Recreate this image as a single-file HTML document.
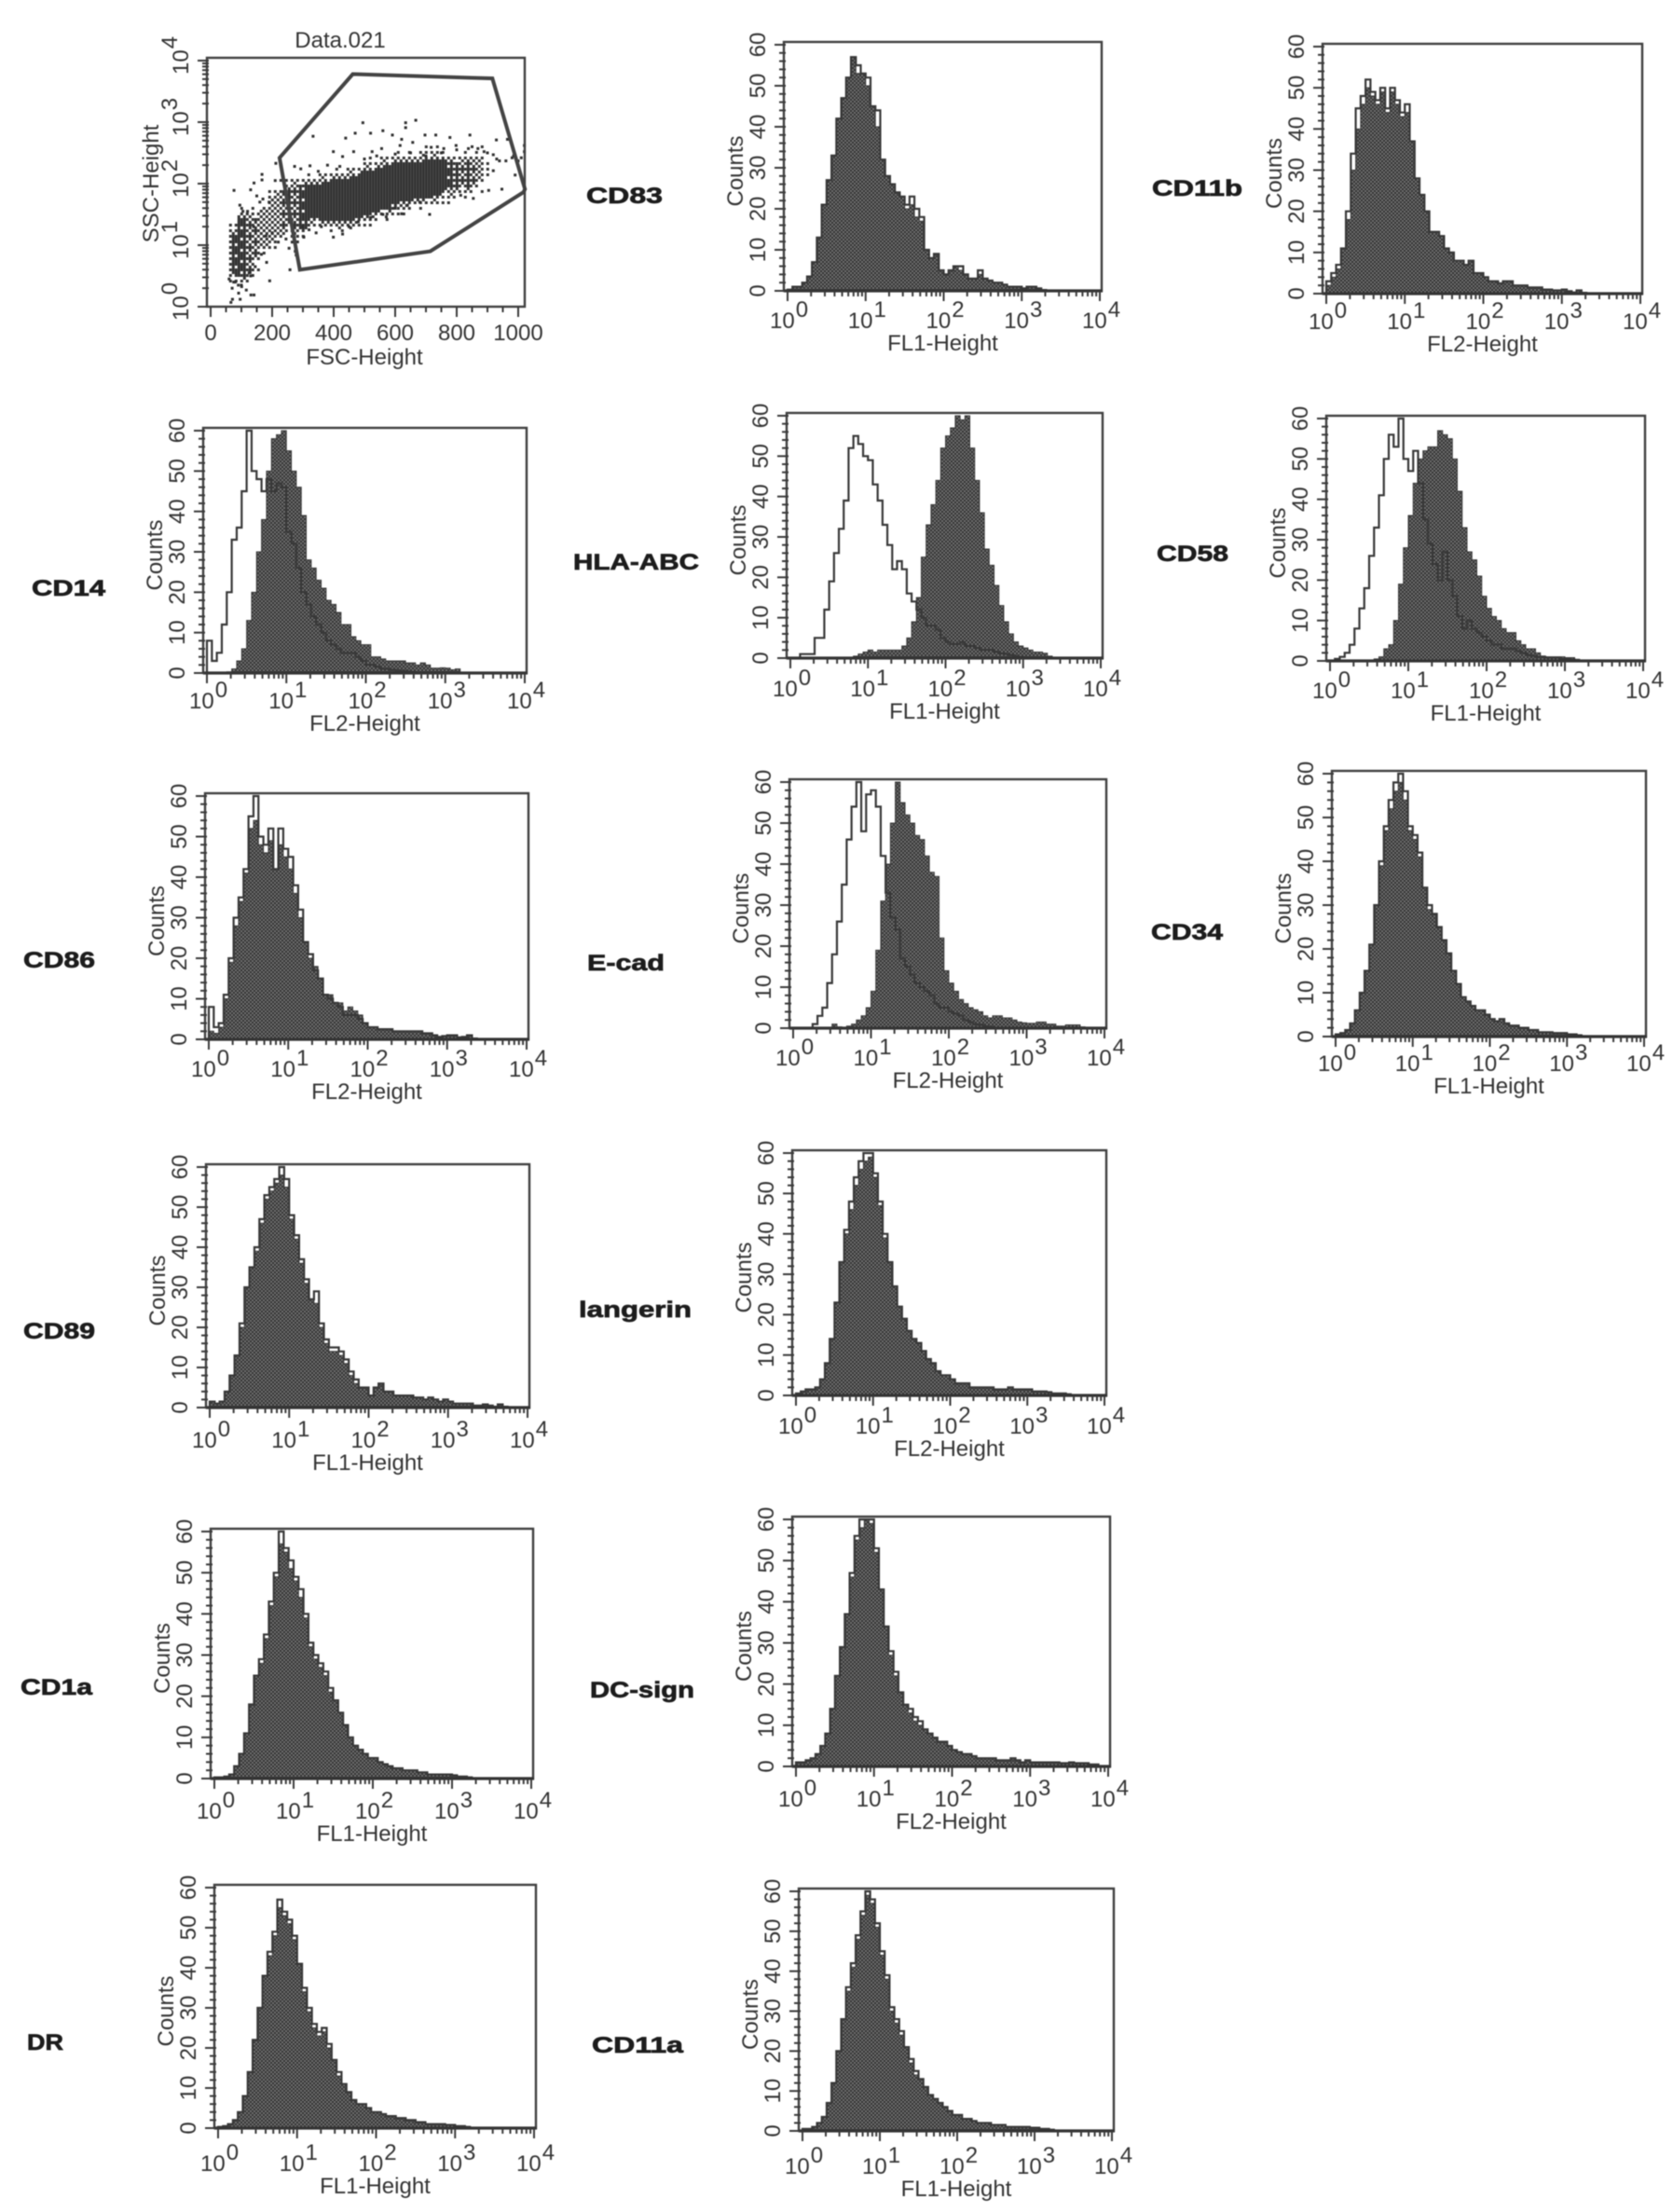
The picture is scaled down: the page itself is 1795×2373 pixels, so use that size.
<!DOCTYPE html>
<html lang="en">
<head>
<meta charset="utf-8">
<title>Flow cytometry histograms</title>
<style>
html,body{margin:0;padding:0;background:#fff;}
#figure{display:block;width:1795px;height:2373px;filter:blur(0.5px);}
text{font-family:"Liberation Sans",sans-serif;fill:#333;font-size:24px;}
.marker-label{font-weight:bold;font-size:24px;fill:#1c1c1c;stroke:#1c1c1c;stroke-width:.7px;}
</style>
</head>
<body>
<svg id="figure" xmlns="http://www.w3.org/2000/svg" width="1795" height="2373" viewBox="0 0 1795 2373">
<defs>
<pattern id="halftone" width="4" height="4" patternUnits="userSpaceOnUse">
<rect width="4" height="4" fill="#3a3a3a"/>
<rect x="0.3" y="0.3" width="1.4" height="1.4" fill="#989898"/>
<rect x="2.3" y="2.3" width="1.4" height="1.4" fill="#989898"/>
</pattern>
</defs>
<g id="marker-labels">
<text class="marker-label" x="629" y="218" textLength="82" lengthAdjust="spacingAndGlyphs">CD83</text>
<text class="marker-label" x="1236" y="210" textLength="97" lengthAdjust="spacingAndGlyphs">CD11b</text>
<text class="marker-label" x="34" y="639" textLength="79" lengthAdjust="spacingAndGlyphs">CD14</text>
<text class="marker-label" x="615" y="611" textLength="135" lengthAdjust="spacingAndGlyphs">HLA-ABC</text>
<text class="marker-label" x="1241" y="602" textLength="77" lengthAdjust="spacingAndGlyphs">CD58</text>
<text class="marker-label" x="25" y="1038" textLength="77" lengthAdjust="spacingAndGlyphs">CD86</text>
<text class="marker-label" x="630" y="1041" textLength="83" lengthAdjust="spacingAndGlyphs">E-cad</text>
<text class="marker-label" x="1235" y="1008" textLength="77" lengthAdjust="spacingAndGlyphs">CD34</text>
<text class="marker-label" x="25" y="1436" textLength="77" lengthAdjust="spacingAndGlyphs">CD89</text>
<text class="marker-label" x="621" y="1413" textLength="121" lengthAdjust="spacingAndGlyphs">langerin</text>
<text class="marker-label" x="22" y="1818" textLength="77" lengthAdjust="spacingAndGlyphs">CD1a</text>
<text class="marker-label" x="633" y="1821" textLength="112" lengthAdjust="spacingAndGlyphs">DC-sign</text>
<text class="marker-label" x="29" y="2199" textLength="39" lengthAdjust="spacingAndGlyphs">DR</text>
<text class="marker-label" x="635" y="2202" textLength="98" lengthAdjust="spacingAndGlyphs">CD11a</text>
</g>
<g id="panels"></g>
</svg>
<script>
/* Shared axis labels */
const yTickLabels = [0, 10, 20, 30, 40, 50, 60];
const xDecadeExponents = [0, 1, 2, 3, 4];
const binsPerDecade = 16;

/* Histogram counts: one value per log bin */
const cd83Filled = [.3,1,1,2,3.5,7,13,21,27,33,42,47,52,57,53,53,50,45,40,32,28,26,24,23,20,21,18,17,10,8,9,5,4,5,6,5,4,3,3,4,3,2.5,2,2,1.5,1,1,1,.6,1,1,.6,.2];
const cd83Outline = [.3,1,1,2,3.5,7,13,21,27,33,42,47,52,57,55,53,52,45,44,32,28,26,24,23,21,23,20,18,10,8,9,5,4,5,6,6,4,3,3,5,3,2.5,2,2,1.5,1,1,1,.6,1,1,.6,.2];
const cd11bFilled = [2,4,6,11,18,30,40,46,50,48,46,49,44,49,46,43,44,37,28,24,20,15,15,14,11,10,8,8,7,8,5,5,4,3,3,2.5,3,3,2,2,2,1.5,1.5,1.5,1,1,.8,.8,1,.6,.3,.8,.2];
const cd11bOutline = [3,5,7,11,20,34,45,48,52,49,47,50,45,50,47,44,46,37,28,24,20,15,15,14,11,10,8,8,7,8,5,5,4,3,3,2.5,3,3,2,2,2,1.5,1.5,1.5,1,1,.8,.8,1,.6,.3,.8,.2];
const cd14Filled = [0,0,0,0,.3,1,3,6,13,20,30,38,50,58,59,60,55,50,46,39,28,26,23,21,18,17,15,12,12,9,8,7,7,4,4,3.5,3,3,3,3,2.5,2.5,2,2.5,2,1.2,1.2,1.3,1.2,.8,1,.2];
const cd14Outline = [8,3,5,12,20,33,36,45,60,50,48,45,48,45,47,46,35,32,26,20,17,14,12,10,8,7,6,5,5,5,4,3,2,2,1.5,1,1,.8,.6,.5,.4,.3];
const hlaFilled = [0,0,0,0,0,0,0,0,0,0,0,0,0,.5,1,1.5,2,1.5,2,2,2,2,2,3,5,9,15,25,33,38,44,52,55,57,60,59,60,52,44,36,27,23,18,13,9,6,4,3,2.5,2,1.5,1.5,1.2,.5,.2];
const hlaOutline = [0,0,1,1,1,5,5,12,19,26,32,39,52,55,53,50,49,43,39,33,28,22,24,22,16,14,12,10,8,8,7,5,4,3.5,3.5,4,3,3,2.5,2,2,2,1.5,1.2,1,.8,.5,.3];
const cd58Filled = [0,0,0,0,0,0,0,0,0,.5,1,3,4,10,19,28,36,44,50,52,53,53,57,56,55,50,42,33,27,25,21,16,13,11,10,8,7,7,5,4,3,3,2,1.2,1,1,1,1,.8,.8,.4,.2];
const cd58Outline = [0,.5,1,2,4,8,13,18,26,33,41,50,56,53,60,50,47,52,44,35,29,24,20,27,20,16,11,8,10,8,7,6,5,4,4,3,3,3,2.5,2,1.5,1.2,1,1,.8,.8,.8,.5,.5,.3];
const cd86Filled = [2,1.5,3,10,19,28,34,41,52,54,48,46,49,42,48,45,42,36,30,24,20,18,15,11,11,9,9,7,8,7,6,4,3,3,2.5,2.5,2.5,2,2,2,2,2,2,1.5,1.5,1,.6,.8,1,1,.5,.6,1,.2];
const cd86Outline = [8,3,4,11,20,30,35,42,55,60,50,48,52,42,52,47,45,38,32,24,21,17,15,11,10,9,8,6,6,6,5,4,3,3,2.5,2.5,2.5,2,2,2,2,2,2,1.5,1.5,1,.6,.8,1,1,.5,.6,1,.2];
const ecadFilled = [0,0,0,0,0,0,0,0,1,.3,.2,.5,1,2,3,5,9,19,31,40,50,60,55,52,50,47,46,42,38,37,22,14,11,9,7,6,5,4.5,4,3,2.5,3,3,2.5,2.5,2,1.5,1.3,1.2,1.2,1.5,1.5,1,1,.5,.5,.8,.8,.8,.3];
const ecadOutline = [0,0,0,0,1,3,5,11,18,26,35,46,54,60,48,57,58,54,42,33,27,24,17,15,13,11,10,9,8,6,5,5,4,3.5,3,2,1.5,1,.8,.5,.3];
const cd34Filled = [.5,.8,1.5,3,6,10,15,21,30,39,47,52,56,58,54,47,45,41,34,29,28,25,22,19,15,12,9,8,7,6,6,5,4,3.5,4,3,2.5,2.5,2,2,1.5,1.5,1,1,1,.8,.8,.8,.5,.5,.3];
const cd34Outline = [.5,.8,1.5,3,6,10,15,21,30,40,48,54,58,60,56,48,46,42,34,30,28,25,22,19,15,12,9,8,7,6,6,5,4,3.5,4,3,2.5,2.5,2,2,1.5,1.5,1,1,1,.8,.8,.8,.5,.5,.3];
const cd89Filled = [1.5,1,1.5,4,8,13,20,30,35,39,46,52,54,56,58,55,47,42,36,31,27,26,20,16,14,14,13,11,8,6,5,5,3,5,6,4,4,3,3,3,3,2.5,2.5,2,2.5,2,1.5,2,1.5,1,1,1,1,.5,.5,.8,.5,.2,.8,.2];
const cd89Outline = [1.5,1,1.5,4,8,13,21,30,35,40,47,53,55,57,60,57,48,43,37,32,27,29,21,17,15,15,14,12,9,7,5,5,3,5,6,4,4,3,3,3,3,2.5,2.5,2,2.5,2,1.5,2,1.5,1,1,1,1,.5,.5,.8,.5,.2,.8,.2];
const langerinFilled = [.5,1,1.5,1.5,2,4,8,14,23,33,40,46,52,56,58,59,54,47,39,33,27,22,19,16,14,13,11,9,8,6,5,5,4,3,3,3,2,2,2,2,2,1.5,1.5,1.5,2,1.5,1.5,1.5,1.5,1,1,1,.8,.5,.5,.5,.3];
const langerinOutline = [.5,1,1.5,1.5,2,4,8,14,23,33,41,48,54,58,60,60,55,48,40,33,27,22,19,16,14,13,11,9,8,6,5,5,4,3,3,3,2,2,2,2,2,1.5,1.5,1.5,2,1.5,1.5,1.5,1.5,1,1,1,.8,.5,.5,.5,.3];
const cd1aFilled = [.3,.3,.5,1,3,6,11,18,25,28,34,42,49,57,55,51,48,44,39,32,29,27,25,21,19,16,13,10,8,7,6,5,5,4,3.5,3,2.5,2.5,2,2,2,1.5,1.5,1,1,1,1,1,.8,.5,.5,.3];
const cd1aOutline = [.3,.3,.5,1,3,6,11,18,25,29,35,43,50,60,56,53,49,46,40,33,30,28,26,22,19,16,13,10,8,7,6,5,5,4,3.5,3,2.5,2.5,2,2,2,1.5,1.5,1,1,1,1,1,.8,.5,.5,.3];
const dcsignFilled = [1,1,1.5,2,3,5,8,14,22,29,37,46,55,58,60,59,52,43,34,27,22,18,15,13,11,10,9,8,7,6,6,5,4,3.5,3,3,2.5,2,2,2,2,1.5,1.5,1.5,2,1.5,1,1.5,1,1,1,1,1,1,.8,.8,1,.8,.8,.8,.5,.5];
const dcsignOutline = [1,1,1.5,2,3,5,8,14,22,29,37,47,56,60,60,60,53,43,34,28,23,18,15,14,12,11,9,8,7,6,6,5,4,3.5,3,3,2.5,2,2,2,2,1.5,1.5,1.5,2,1.5,1,1.5,1,1,1,1,1,1,.8,.8,1,.8,.8,.8,.5,.5];
const drFilled = [.3,.5,1,2,4,8,14,22,30,38,43,48,55,53,51,47,41,34,29,25,23,24,20,17,13,11,9,7,6,6,5,4,4,3.5,3,3,2.5,2.5,2,2,1.5,1.5,1,1,1,1,.8,.8,.5,.5,.3];
const drOutline = [.3,.5,1,2,4,8,14,22,30,38,44,49,57,54,52,48,41,35,30,26,24,25,21,17,14,11,9,7,6,6,5,4,4,3.5,3,3,2.5,2.5,2,2,1.5,1.5,1,1,1,1,.8,.8,.5,.5,.3];
const cd11aFilled = [.5,.5,1,2,3.5,7,12,20,28,35,41,48,54,59,57,51,44,38,30,27,24,21,17,14,13,11,9,8,7,6,5,4,4,3,3,2.5,2,2,2,1.5,1.5,1.5,1,1,1,1,1,.8,.8,.5,.5,.3];
const cd11aOutline = [.5,.5,1,2,3.5,7,12,20,28,36,42,49,55,60,58,52,45,39,31,28,25,21,18,15,13,11,9,8,7,6,5,4,4,3,3,2.5,2,2,2,1.5,1.5,1.5,1,1,1,1,1,.8,.8,.5,.5,.3];

/* Scatter data (FSC linear, SSC as log10) */
const scatterXTicks = [0, 200, 400, 600, 800, 1000];
const scatterYExponents = [0, 1, 2, 3, 4];
const gateFsc = [462, 916, 1022, 1017, 714, 290, 224];
const gateSscLog = [3.78, 3.71, 1.91, 1.86, 0.9, 0.6, 2.42];
const cloudFsc = [60,85,110,135,160,185,210,235,260,285,310,335,360,385,410,435,460,485,510,535,560,585,610,635,660,685,710,735,760,785,810,835,860,885];
const cloudLow = [.55,.5,.6,.8,1.0,1.05,1.2,1.35,1.2,1.3,1.45,1.45,1.42,1.42,1.4,1.4,1.45,1.5,1.55,1.6,1.62,1.68,1.72,1.75,1.78,1.8,1.82,1.85,1.9,1.95,1.95,2.0,2.05,2.1];
const cloudHigh = [1.25,1.5,1.5,1.45,1.6,1.8,1.9,1.95,2.0,2.0,2.0,2.0,2.05,2.1,2.1,2.12,2.15,2.25,2.25,2.3,2.32,2.35,2.35,2.38,2.38,2.42,2.42,2.42,2.38,2.35,2.4,2.42,2.45,2.35];
const cloudDensity = [.8,.85,.7,.6,.5,.5,.55,.8,.7,.85,.98,.98,.98,.98,.98,.98,.98,.98,.98,.98,.98,.98,.98,.98,.98,.98,.98,.98,.85,.7,.7,.6,.45,.25];
const scatterFsc = [333,439,470,495,520,560,591,634,634,667,621,697,732,778,843,869,929,965,212,167,76,141,167,273,293,323,399,429,465,525,556,616,657,717,758,798,838,889,919,939,960,980,1000,1020,1020,919,947,904,990,854,813,712,571,621,343,303,399,429,278,258,192,182,131,116,91,71,66,96,141,350,380,420,500,540,600,650,700,750,800,850,900,930,985,1010,300,320,360,450,480,520,560,600,640,680,130,150,170,190,210,120,140,160,180,200,220,95,105,125,145,165,75,100,130,60,70,80,90,245,255,265,275];
const scatterSscLog = [2.77,2.74,2.82,2.99,2.82,2.86,2.79,2.99,2.91,3.03,2.72,2.79,2.79,2.75,2.79,2.57,2.71,2.72,2.33,2.15,1.89,2.01,2.06,2.28,2.24,2.29,2.52,2.44,2.52,2.52,2.57,2.62,2.67,2.59,2.57,2.62,2.57,2.52,2.47,2.37,2.37,2.42,2.37,2.52,2.62,2.21,1.91,1.89,2.14,1.76,1.81,1.5,1.46,1.51,1.2,1.13,1.13,1.18,.84,.6,.42,.72,.19,.27,.22,.12,.07,.12,.19,2.2,2.3,2.28,2.4,2.45,2.48,2.5,2.45,2.5,2.55,2.6,2.5,2.4,2.45,2.42,1.3,1.25,1.3,1.3,1.38,1.45,1.5,1.6,1.65,1.7,1.9,1.8,1.75,1.7,2.05,1.55,1.3,1.7,1.15,1.2,1.05,1.65,1.55,.55,.65,.85,.4,.35,.5,.45,.3,.4,.35,1.1,.95,1.05,.9];

const panelsRoot = document.getElementById('panels');
const NS = 'http://www.w3.org/2000/svg';
const orderedDither = [[0,8,2,10],[12,4,14,6],[3,11,1,9],[15,7,13,5]];

function make(tag, parent, attrs, text) {
  const el = document.createElementNS(NS, tag);
  for (const k in attrs) el.setAttribute(k, attrs[k]);
  if (text !== undefined) el.textContent = text;
  parent.appendChild(el);
  return el;
}

function powerLabel(parent, exponent, transform, anchorShift) {
  const t = make('text', parent, { transform: transform, x: anchorShift, y: 0 }, '');
  
  
  make('tspan', t, {}, '10');
  make('tspan', t, { dx: 1, dy: -12 }, String(exponent));
  return t;
}

function drawFrame(g, l, r, t, b) {
  const frame = make('rect', g, { x: l, y: t, width: r - l, height: b - t, fill: 'none', stroke: '#3f3f3f', 'stroke-width': 2.4 });
  
  
}

function stepPath(values, xOf, yOf) {
  let d = 'M' + xOf(0) + ' ' + yOf(0);
  values.forEach(function (v, i) {
    d += 'L' + xOf(i / binsPerDecade) + ' ' + yOf(v) + 'L' + xOf((i + 1) / binsPerDecade) + ' ' + yOf(v);
  });
  d += 'L' + xOf(values.length / binsPerDecade) + ' ' + yOf(0);
  return d;
}

function drawHistogram(p) {
  const l = p.frame[0], r = p.frame[1], t = p.frame[2], b = p.frame[3];
  const x0 = l + 4, x4 = r - 2;
  const xOf = function (logValue) { return +(x0 + (x4 - x0) * logValue / 4).toFixed(2); };
  const yOf = function (count) { return +(b - (b - t - 3) * count / 60).toFixed(2); };

  const g = make('g', panelsRoot, {});
  
  

  const fill = make('path', g, { d: stepPath(p.filled, xOf, yOf) + 'Z', fill: 'url(#halftone)', stroke: '#3a3a3a', 'stroke-width': 1 });
  
  

  const line = make('path', g, { d: stepPath(p.outline, xOf, yOf), fill: 'none', stroke: '#383838', 'stroke-width': 2.2 });
  
  

  drawFrame(g, l, r, t, b);

  const base = make('line', g, { x1: l, x2: r + 1, y1: b, y2: b, stroke: '#333', 'stroke-width': 3.2 });
  
  

  const yTicks = make('g', g, { stroke: '#3a3a3a', 'stroke-width': 2 });
  
  
  for (let c = 0; c <= 60; c += 2) {
    const major = c % 10 === 0;
    make('line', yTicks, { x1: major ? l - 10 : l - 5, x2: l + 2, y1: yOf(c), y2: yOf(c) });
  }
  yTickLabels.forEach(function (v) {
    const lab = make('text', g, { transform: 'translate(' + (l - 20) + ' ' + yOf(v) + ') rotate(-90)', 'text-anchor': 'middle' }, String(v));
    
    
  });

  const xTicks = make('g', g, { stroke: '#3a3a3a', 'stroke-width': 2 });
  
  
  xDecadeExponents.forEach(function (e) {
    make('line', xTicks, { x1: xOf(e), x2: xOf(e), y1: b, y2: b + 11 });
    if (e < 4) {
      for (let m = 2; m < 10; m++) {
        const mx = xOf(e + Math.log10(m));
        make('line', xTicks, { x1: mx, x2: mx, y1: b, y2: b + 6 });
      }
    }
    powerLabel(g, e, 'translate(' + xOf(e) + ' ' + (b + p.titleDrop - 24) + ')', -19);
  });

  const xTitle = make('text', g, { x: (l + r) / 2, y: b + p.titleDrop, 'text-anchor': 'middle' }, p.xTitle);
  
  

  const yTitle = make('text', g, { transform: 'translate(' + (l - 44) + ' ' + ((t + b) / 2 + 5) + ') rotate(-90)', 'text-anchor': 'middle' }, 'Counts');
  
  
}

function drawScatter() {
  const l = 222, r = 563, t = 62, b = 329;
  const xOf = function (v) { return +(226 + 0.33 * v).toFixed(2); };
  const yOf = function (v) { return +(b - 66 * v).toFixed(2); };
  const fscOf = function (px) { return (px - 226) / 0.33; };
  const logOf = function (py) { return (b - py) / 66; };

  const g = make('g', panelsRoot, {});
  
  

  const title = make('text', g, { x: 365, y: 51, 'text-anchor': 'middle' }, 'Data.021');
  
  

  /* Dense cloud: ordered-dither cells whose coverage follows the cloud arrays */
  const cloud = make('g', g, { fill: '#333' });
  
  
  const cell = 3, margin = 0.22;
  for (let px = xOf(cloudFsc[0]); px < xOf(cloudFsc[cloudFsc.length - 1] + 25); px += cell) {
    const idx = Math.min(cloudFsc.length - 1, Math.floor((fscOf(px) - cloudFsc[0]) / 25));
    for (let py = t + 1; py < b - 1; py += cell) {
      const v = logOf(py);
      const outside = Math.max(cloudLow[idx] - v, v - cloudHigh[idx], 0);
      if (outside >= margin) continue;
      const coverage = outside > 0 ? cloudDensity[idx] * 0.55 * (1 - outside / margin) : cloudDensity[idx];
      const cx = Math.round(px / cell) % 4, cy = Math.round(py / cell) % 4;
      if ((orderedDither[cy][cx] + 0.5) / 16 < coverage) {
        make('rect', cloud, { x: px, y: py, width: cell, height: cell });
      }
    }
  }

  const points = make('g', g, { fill: '#2f2f2f' });
  
  
  scatterFsc.forEach(function (f, i) {
    make('rect', points, { x: xOf(f) - 1.5, y: yOf(scatterSscLog[i]) - 1.5, width: 3, height: 3 });
  });

  const gate = make('polygon', g, { points: gateFsc.map(function (f, i) { return xOf(f) + ',' + yOf(gateSscLog[i]); }).join(' '), fill: 'none', stroke: '#444', 'stroke-width': 4 });
  
  

  drawFrame(g, l, r, t, b);

  const xTicks = make('g', g, { stroke: '#3a3a3a', 'stroke-width': 2 });
  
  
  for (let v = 0; v <= 1000; v += 50) {
    make('line', xTicks, { x1: xOf(v), x2: xOf(v), y1: b, y2: b + (v % 200 === 0 ? 11 : 6) });
  }
  scatterXTicks.forEach(function (v) {
    const lab = make('text', g, { x: xOf(v), y: b + 36, 'text-anchor': 'middle' }, String(v));
    
    
  });

  const yTicks = make('g', g, { stroke: '#3a3a3a', 'stroke-width': 2 });
  
  
  scatterYExponents.forEach(function (e) {
    make('line', yTicks, { x1: l - 10, x2: l + 2, y1: yOf(e), y2: yOf(e) });
    if (e < 4) {
      for (let m = 2; m < 10; m++) {
        const my = yOf(e + Math.log10(m));
        make('line', yTicks, { x1: l - 5, x2: l + 2, y1: my, y2: my });
      }
    }
    powerLabel(g, e, 'translate(' + (l - 20) + ' ' + yOf(e) + ') rotate(-90)', -15);
  });

  const xTitle = make('text', g, { x: 391, y: b + 62, 'text-anchor': 'middle' }, 'FSC-Height');
  
  

  const yTitle = make('text', g, { transform: 'translate(170 197) rotate(-90)', 'text-anchor': 'middle' }, 'SSC-Height');
  
  
}

drawScatter();

/* Panel placement on the page: frame = left, right, top, bottom; titleDrop = axis-title offset */
[
  { id: 'cd83', xTitle: 'FL1-Height', frame: [841, 1182, 45, 312], titleDrop: 64, filled: cd83Filled, outline: cd83Outline },
  { id: 'cd11b', xTitle: 'FL2-Height', frame: [1419, 1762, 47, 315], titleDrop: 62, filled: cd11bFilled, outline: cd11bOutline },
  { id: 'cd14', xTitle: 'FL2-Height', frame: [218, 565, 459, 722], titleDrop: 62, filled: cd14Filled, outline: cd14Outline },
  { id: 'hla-abc', xTitle: 'FL1-Height', frame: [844, 1183, 443, 706], titleDrop: 65, filled: hlaFilled, outline: hlaOutline },
  { id: 'cd58', xTitle: 'FL1-Height', frame: [1423, 1765, 446, 709], titleDrop: 64, filled: cd58Filled, outline: cd58Outline },
  { id: 'cd86', xTitle: 'FL2-Height', frame: [220, 567, 851, 1115], titleDrop: 64, filled: cd86Filled, outline: cd86Outline },
  { id: 'e-cad', xTitle: 'FL2-Height', frame: [847, 1187, 836, 1103], titleDrop: 64, filled: ecadFilled, outline: ecadOutline },
  { id: 'cd34', xTitle: 'FL1-Height', frame: [1429, 1766, 827, 1112], titleDrop: 61, filled: cd34Filled, outline: cd34Outline },
  { id: 'cd89', xTitle: 'FL1-Height', frame: [221, 568, 1249, 1510], titleDrop: 67, filled: cd89Filled, outline: cd89Outline },
  { id: 'langerin', xTitle: 'FL2-Height', frame: [850, 1187, 1234, 1497], titleDrop: 65, filled: langerinFilled, outline: langerinOutline },
  { id: 'cd1a', xTitle: 'FL1-Height', frame: [226, 572, 1640, 1908], titleDrop: 67, filled: cd1aFilled, outline: cd1aOutline },
  { id: 'dc-sign', xTitle: 'FL2-Height', frame: [850, 1191, 1627, 1895], titleDrop: 67, filled: dcsignFilled, outline: dcsignOutline },
  { id: 'dr', xTitle: 'FL1-Height', frame: [230, 575, 2022, 2283], titleDrop: 70, filled: drFilled, outline: drOutline },
  { id: 'cd11a', xTitle: 'FL1-Height', frame: [857, 1195, 2026, 2286], titleDrop: 70, filled: cd11aFilled, outline: cd11aOutline }
].forEach(drawHistogram);
</script>
</body>
</html>
